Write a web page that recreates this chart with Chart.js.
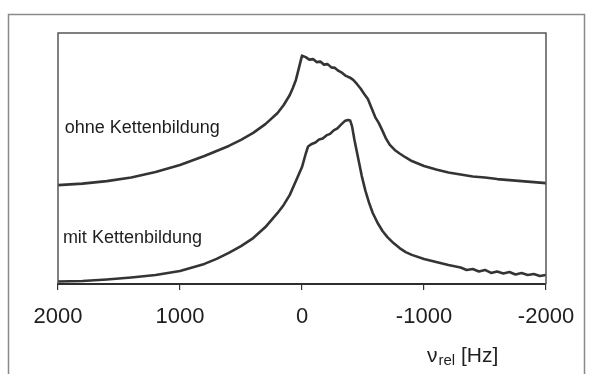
<!DOCTYPE html>
<html>
<head>
<meta charset="utf-8">
<title>Spektren mit und ohne Kettenbildung</title>
<script src="https://cdn.jsdelivr.net/npm/chart.js@4.4.1/dist/chart.umd.min.js"></script>
<style>
  html, body { margin: 0; padding: 0; background: #ffffff; }
  #wrap { width: 589px; height: 374px; position: relative; }
</style>
</head>
<body>
<div id="wrap"><canvas id="spec" width="589" height="374"></canvas></div>
<script>
// Relative frequency axis (Hz), plotted from +2000 on the left to -2000 on the right
const axisTicks = [2000, 1000, 0, -1000, -2000];

// Spectrum without chain formation (upper trace, arbitrary intensity units)
const ohneHz = [2000, 1800, 1600, 1400, 1200, 1000, 800, 600, 500, 400, 300, 200, 150, 100, 75, 50, 25, 0,
  -30, -60, -90, -120, -150, -180, -210, -240, -270, -300, -330, -360, -390, -420, -450, -480, -510,
  -540, -570, -600, -630, -660, -690, -720, -760, -800, -850, -900, -1000, -1100, -1200, -1300, -1400,
  -1500, -1600, -1700, -1800, -1900, -2000];
const ohneInt = [39.4, 40.0, 41.0, 42.4, 44.6, 47.4, 51.0, 55.0, 57.4, 60.2, 63.7, 68.1, 71.3, 75.3, 78.1, 81.3, 86.1, 91.0,
  90.4, 89.4, 89.6, 88.4, 88.6, 87.4, 87.6, 86.3, 86.1, 84.9, 84.1, 82.9, 82.3, 81.3, 79.7, 77.9, 75.7,
  73.7, 70.1, 66.5, 64.1, 61.0, 57.8, 55.4, 53.4, 52.0, 50.4, 49.0, 47.0, 45.6, 44.4, 43.6, 42.8,
  42.4, 41.8, 41.4, 41.0, 40.6, 40.2];

// Spectrum with chain formation (lower trace)
const mitHz = [2000, 1800, 1600, 1400, 1200, 1000, 800, 700, 600, 500, 400, 300, 200, 150, 100, 50, 0,
  -30, -50, -80, -110, -140, -170, -200, -230, -260, -290, -320, -350, -375, -395, -410, -430, -460,
  -490, -520, -550, -580, -620, -660, -700, -750, -800, -850, -900, -1000, -1100, -1200, -1300, -1350,
  -1400, -1450, -1500, -1550, -1600, -1650, -1700, -1750, -1800, -1850, -1900, -1950, -2000];
const mitInt = [1.0, 1.2, 1.8, 2.6, 3.6, 5.2, 8.0, 10.0, 12.4, 15.1, 18.3, 22.7, 28.3, 31.5, 35.5, 41.0, 46.6,
  51.8, 54.8, 55.8, 56.4, 57.6, 58.0, 59.2, 59.8, 61.2, 62.0, 63.5, 64.9, 65.3, 65.1, 62.9, 57.4, 50.2,
  43.0, 37.1, 32.3, 28.3, 24.3, 21.1, 18.7, 16.3, 14.3, 12.7, 11.6, 10.0, 8.8, 7.6, 6.6, 5.6,
  6.0, 5.0, 5.6, 4.4, 5.0, 4.2, 4.8, 3.8, 4.4, 3.6, 4.0, 3.2, 3.6];

// Trace captions and where they sit (in data coordinates)
const captions = ['ohne Kettenbildung', 'mit Kettenbildung'];
const captionHz = [1945, 1960];
const captionInt = [60.2, 16.3];

const toPoints = (xs, ys) => xs.map((x, i) => ({ x: x, y: ys[i] }));

const lineColor = '#333533';
const textColor = '#1e1e1e';
const textFont = '"Liberation Sans", Arial, Helvetica, sans-serif';

const framePlugin = {
  id: 'frames',
  beforeDraw(chart) {
    const ctx = chart.ctx;
    ctx.save();
    ctx.fillStyle = '#ffffff';
    ctx.fillRect(0, 0, chart.width, chart.height);
    // outer figure border
    ctx.strokeStyle = '#8a8a8a';
    ctx.lineWidth = 1.5;
    ctx.beginPath();
    ctx.moveTo(8.5, 380);
    ctx.lineTo(8.5, 14.5);
    ctx.lineTo(584.5, 14.5);
    ctx.lineTo(584.5, 380);
    ctx.stroke();
    ctx.restore();
  },
  afterDatasetsDraw(chart) {
    const ctx = chart.ctx;
    const a = chart.chartArea;
    ctx.save();
    // plot frame (left, top, right); the bottom edge is the x-axis border
    ctx.strokeStyle = '#555555';
    ctx.lineWidth = 1.5;
    ctx.beginPath();
    ctx.moveTo(a.left, a.bottom);
    ctx.lineTo(a.left, a.top);
    ctx.lineTo(a.right, a.top);
    ctx.lineTo(a.right, a.bottom);
    ctx.stroke();

    // trace captions
    const xs = chart.scales.x, ys = chart.scales.y;
    ctx.fillStyle = textColor;
    ctx.font = '18px ' + textFont;
    ctx.textBaseline = 'alphabetic';
    ctx.textAlign = 'left';
    captions.forEach((t, i) => {
      ctx.fillText(t, xs.getPixelForValue(captionHz[i]), ys.getPixelForValue(captionInt[i]));
    });

    // axis title: ν with subscript "rel", then unit
    const tx = 427, ty = 362;
    ctx.font = '21px ' + textFont;
    ctx.fillText('ν', tx, ty);
    let w = ctx.measureText('ν').width;
    ctx.font = '15px ' + textFont;
    ctx.fillText('rel', tx + w + 1, ty + 3);
    w += ctx.measureText('rel').width + 1;
    ctx.font = '21px ' + textFont;
    ctx.fillText(' [Hz]', tx + w, ty);
    ctx.restore();
  }
};

new Chart(document.getElementById('spec'), {
  type: 'scatter',
  data: {
    datasets: [
      { label: captions[0], data: toPoints(ohneHz, ohneInt) },
      { label: captions[1], data: toPoints(mitHz, mitInt) }
    ].map(d => Object.assign(d, {
      showLine: true,
      borderColor: lineColor,
      borderWidth: 2.6,
      pointRadius: 0,
      tension: 0,
      borderJoinStyle: 'round',
      borderCapStyle: 'round'
    }))
  },
  options: {
    responsive: false,
    animation: false,
    devicePixelRatio: 1,
    layout: { padding: { left: 58, right: 43, top: 33, bottom: 0 } },
    plugins: { legend: { display: false }, tooltip: { enabled: false }, title: { display: false } },
    scales: {
      x: {
        type: 'linear',
        reverse: true,
        min: axisTicks[axisTicks.length - 1],
        max: axisTicks[0],
        afterBuildTicks: (scale) => { scale.ticks = axisTicks.map(v => ({ value: v })); },
        afterFit: (scale) => { scale.height = 90; },
        ticks: {
          color: textColor,
          font: { family: textFont, size: 22 },
          padding: 14,
          maxRotation: 0,
          callback: (v) => String(v)
        },
        grid: {
          display: true,
          drawOnChartArea: false,
          drawTicks: true,
          tickLength: 6,
          color: '#333333',
          lineWidth: 1.2
        },
        border: { display: true, color: '#2e2e2e', width: 2 }
      },
      y: {
        display: false,
        min: 0,
        max: 100
      }
    }
  },
  plugins: [framePlugin]
});
</script>
</body>
</html>
